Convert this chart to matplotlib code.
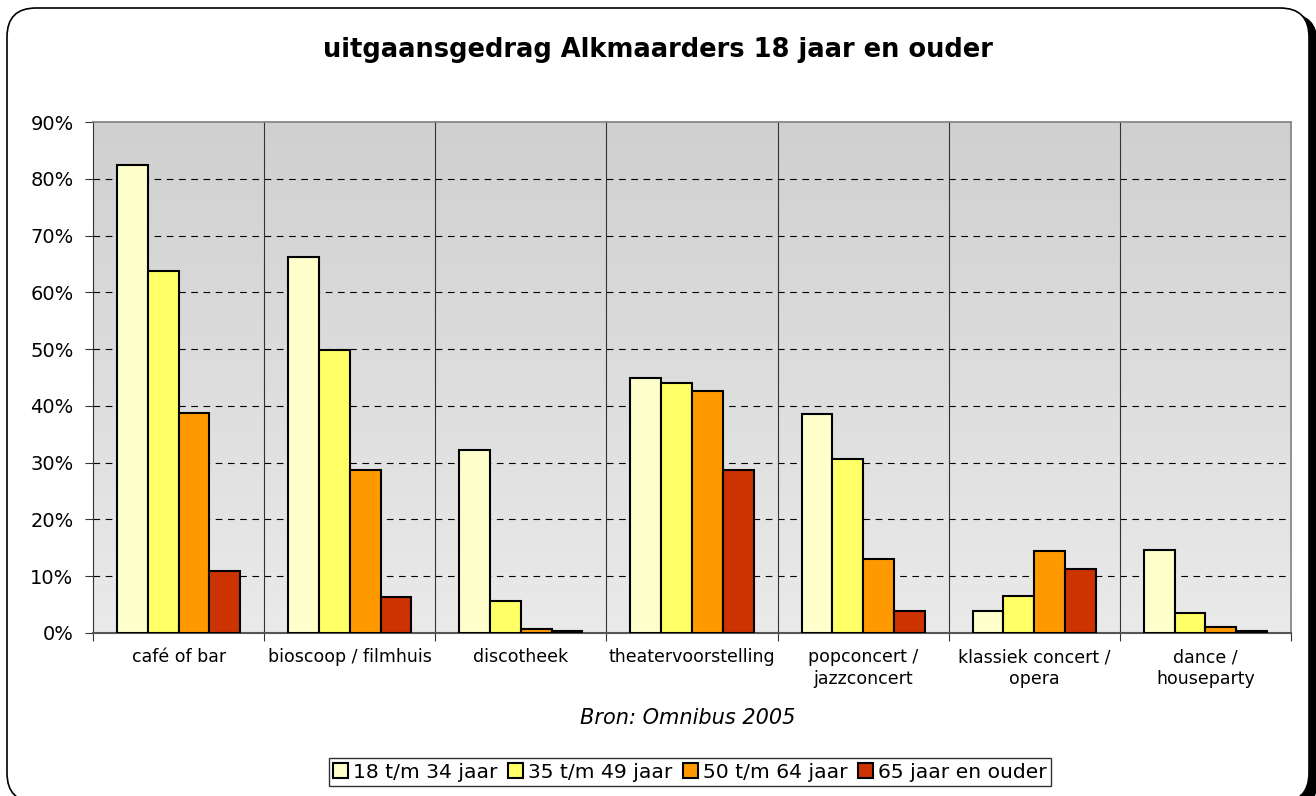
import matplotlib
matplotlib.use('Agg')
import matplotlib.pyplot as plt
import numpy as np
from matplotlib.patches import FancyBboxPatch

categories = ['café of bar', 'bioscoop / filmhuis', 'discotheek', 'theatervoorstelling',
              'popconcert /\njazzconcert', 'klassiek concert /\nopera', 'dance /\nhouseparty']
series_names = ['18 t/m 34 jaar', '35 t/m 49 jaar', '50 t/m 64 jaar', '65 jaar en ouder']
age_18_34 = [82.5, 66.3, 32.3, 44.9, 38.6, 3.8, 14.6]
age_35_49 = [63.8, 49.9, 5.7, 44.0, 30.6, 6.6, 3.6]
age_50_64 = [38.8, 28.7, 0.7, 42.6, 13.0, 14.5, 1.0]
age_65_up = [11.0, 6.3, 0.3, 28.7, 3.8, 11.3, 0.3]
colors = ['#FFFFCC', '#FFFF66', '#FF9900', '#CC3300']

W, H = 1316, 796
fig = plt.figure(figsize=(W / 100, H / 100), dpi=100)

# rounded frame with a black shadow, running off the bottom of the picture
shadow = FancyBboxPatch((14 / W, -14 / H), (W + 1 - 14) / W, (H - 14 + 14) / H,
                        boxstyle='round,pad=0,rounding_size=0.022',
                        transform=fig.transFigure, facecolor='black', edgecolor='black',
                        mutation_aspect=W / H, zorder=0)
fig.patches.append(shadow)
frame = FancyBboxPatch((7 / W, -6 / H), (1309 - 7) / W, (H - 8 + 6) / H,
                       boxstyle='round,pad=0,rounding_size=0.022',
                       transform=fig.transFigure, facecolor='white', edgecolor='black',
                       linewidth=1.2, mutation_aspect=W / H, zorder=1)
fig.patches.append(frame)

ax = fig.add_axes([93 / W, 1 - 633 / H, (1291 - 93) / W, (633 - 122) / H], zorder=2)

# grey gradient behind the bars
grad = np.linspace(0, 1, 256).reshape(-1, 1)
ax.imshow(grad, extent=[-0.5, len(categories) - 0.5, 0, 90], aspect='auto',
          cmap=matplotlib.colors.LinearSegmentedColormap.from_list('g', ['#EAEAEA', '#D0D0D0']),
          origin='lower', zorder=0)

x = np.arange(len(categories))
bw = 0.18
all_series = [age_18_34, age_35_49, age_50_64, age_65_up]
handles = []
for i, (vals, c) in enumerate(zip(all_series, colors)):
    b = ax.bar(x + (i - 1.5) * bw, vals, bw, color=c, edgecolor='black', linewidth=1.5, zorder=3,
               label=series_names[i])
    handles.append(b)

for yv in range(10, 90, 10):
    ax.axhline(yv, color='black', linestyle=(0, (6, 5)), linewidth=0.8, zorder=1)
for xv in np.arange(0.5, len(categories) - 0.5, 1):
    ax.axvline(xv, color='#333333', linewidth=0.8, zorder=1)

ax.set_xlim(-0.5, len(categories) - 0.5)
ax.set_ylim(0, 90)
ax.set_yticks(range(0, 100, 10))
ax.set_yticklabels([f'{v}%' for v in range(0, 100, 10)], fontsize=14)
ax.set_xticks(np.arange(-0.5, len(categories), 1))
ax.set_xticklabels([])
ax.set_xticks(x, minor=True)
ax.set_xticklabels(categories, minor=True, fontsize=12.5, linespacing=1.25)
ax.tick_params(axis='x', which='minor', length=0, pad=11)
ax.tick_params(axis='x', which='major', length=6, color='#333333')
ax.tick_params(axis='y', length=6, color='#333333', pad=8)
for s in ['top', 'right']:
    ax.spines[s].set_color('#808080')
    ax.spines[s].set_linewidth(1.2)
ax.spines['left'].set_color('#333333')
ax.spines['bottom'].set_color('#555555')
ax.spines['bottom'].set_linewidth(1.5)

fig.text(658 / W, 1 - 50 / H, 'uitgaansgedrag Alkmaarders 18 jaar en ouder', ha='center', va='center',
         fontsize=18.5, fontweight='bold', zorder=3)
fig.text(688 / W, 1 - 718 / H, 'Bron: Omnibus 2005', ha='center', va='center',
         fontsize=15, style='italic', zorder=3)

leg = fig.legend(handles=handles, labels=series_names, loc='center', bbox_to_anchor=(690 / W, 1 - 772 / H),
                 ncol=4, fontsize=14.6, frameon=True, fancybox=False, edgecolor='black',
                 handlelength=0.75, handleheight=0.75, handletextpad=0.25, columnspacing=0.5,
                 borderpad=0.2, borderaxespad=0)
leg.get_frame().set_linewidth(1.0)
leg.set_zorder(3)

fig.savefig('out.png', dpi=100)
